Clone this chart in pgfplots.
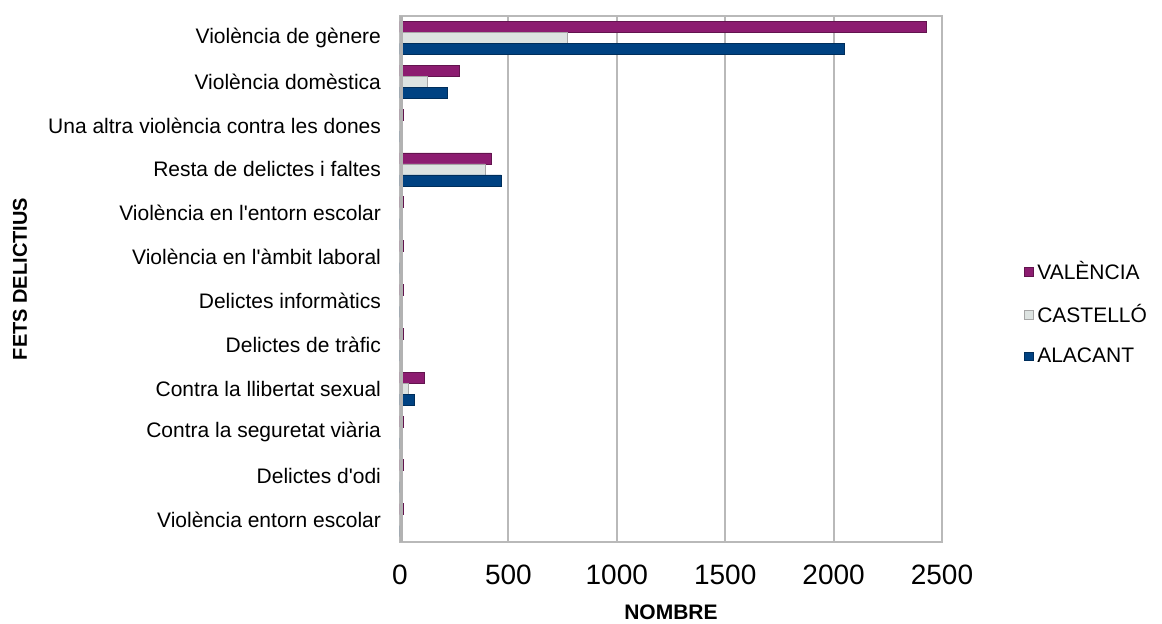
\documentclass[border=0pt]{standalone}
\usepackage{pgfplots}
\pgfplotsset{compat=1.18}
\usepackage{fontspec}
\setmainfont{Liberation Sans}
\definecolor{cval}{RGB}{140,28,112}
\definecolor{ccas}{RGB}{221,227,225}
\definecolor{cala}{RGB}{0,66,130}
\begin{document}
\begin{tikzpicture}
\useasboundingbox (0,0) rectangle (581pt,312pt);
\begin{axis}[
  at={(200pt,41pt)}, anchor=south west,
  scale only axis, width=271pt, height=263pt,
  xbar, bar width=5.5pt,
  xmin=0, xmax=2500, ymin=-0.5, ymax=11.5,
  xtick={0,500,1000,1500,2000,2500},
  ytick={0,...,11},
  yticklabels={Violència entorn escolar, Delictes d\textquotesingle odi, Contra la seguretat viària, Contra la llibertat sexual, Delictes de tràfic, Delictes informàtics, Violència en l\textquotesingle àmbit laboral, Violència en l\textquotesingle entorn escolar, Resta de delictes i faltes, Una altra violència contra les dones, Violència domèstica, Violència de gènere},
  yticklabel style={font=\fontsize{10.5}{12}\selectfont, xshift=-6pt},
  xticklabel style={font=\fontsize{14}{16}\selectfont, yshift=-8pt},
  /pgf/number format/assume math mode=true,
  /pgf/number format/1000 sep={},
  scaled x ticks=false,
  major tick length=0pt,
  xmajorgrids, grid style={gray!55, line width=1pt},
  axis line style={gray!55, line width=1pt},
  xlabel={\textbf{NOMBRE}}, xlabel style={font=\fontsize{10.5}{12}\selectfont, at={(rel axis cs:0.5,0)}, anchor=center, yshift=-35pt},
  ylabel={\textbf{FETS DELICTIUS}}, ylabel style={font=\fontsize{10}{12}\selectfont, at={(rel axis cs:0,0.5)}, anchor=center, yshift=190pt},
  legend style={at={(1.15,0.435)}, anchor=west, draw=none, fill=none, font=\fontsize{10.5}{12}\selectfont, row sep=7pt, inner sep=0pt},
  legend cell align=left,
  legend image code/.code={\fill[#1] (0pt,-2.2pt) rectangle (4.4pt,2.2pt);},
]
\addplot+[bar shift=5.5pt, fill=cval, draw=cval!70!black, line width=0.4pt] coordinates {
(2430,11) (272,10) (15,9) (422,8) (15,7) (15,6) (15,5) (15,4) (111,3) (15,2) (15,1) (15,0)};
\addplot+[bar shift=0pt, fill=ccas, draw=gray!70, line width=0.4pt] coordinates {
(772,11) (126,10) (4,9) (393,8) (4,7) (4,6) (4,5) (4,4) (40,3) (4,2) (4,1) (4,0)};
\addplot+[bar shift=-5.5pt, fill=cala, draw=cala!70!black, line width=0.4pt] coordinates {
(2052,11) (217,10) (12,9) (468,8) (12,7) (12,6) (12,5) (12,4) (65,3) (12,2) (12,1) (12,0)};
\legend{VALÈNCIA, CASTELLÓ, ALACANT}
\draw[gray!60, line width=3pt] (rel axis cs:0,0) -- (rel axis cs:0,1);
\end{axis}
\end{tikzpicture}
\end{document}
